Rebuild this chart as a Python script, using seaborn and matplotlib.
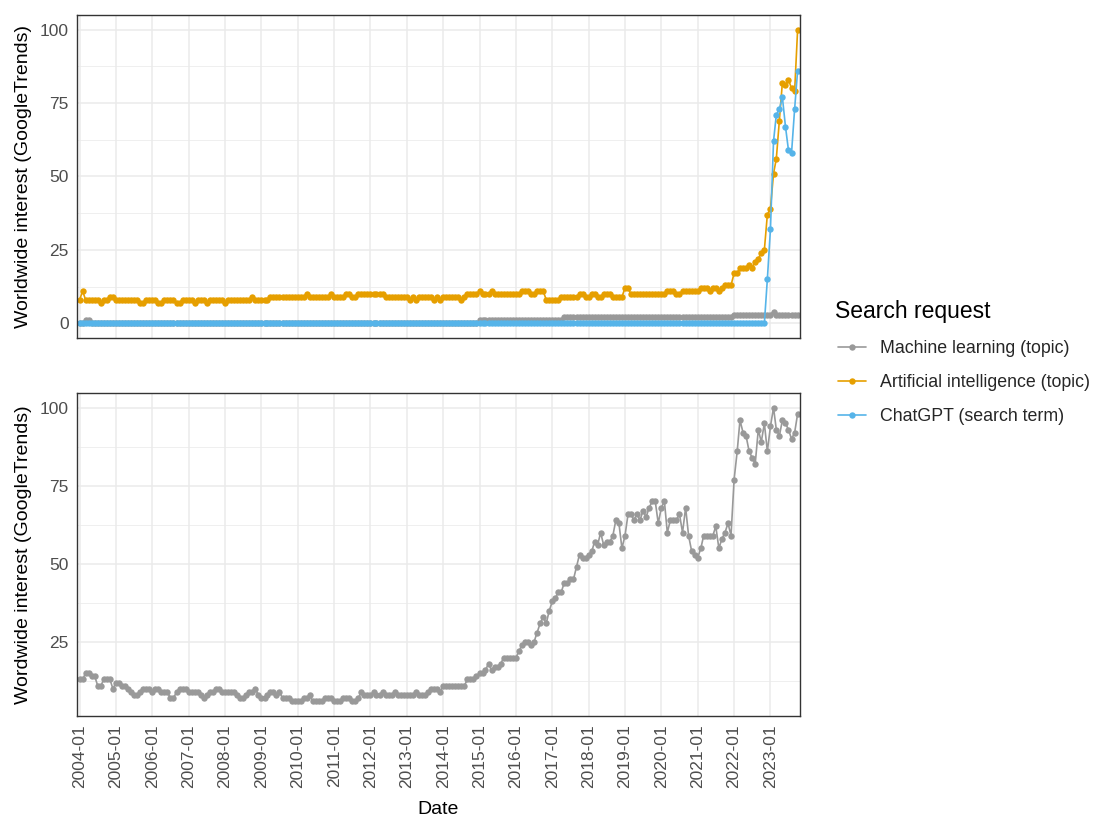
import matplotlib
matplotlib.use("Agg")
import matplotlib.pyplot as plt
from matplotlib.lines import Line2D
from matplotlib.ticker import MultipleLocator
import numpy as np
import pandas as pd
import seaborn as sns

# ---------------- data (monthly, 2004-01 .. 2023-10) ----------------
start_month = "2004-01-01"
n_months = 238

ml_bottom = [
    13, 13, 15, 15, 14, 14, 11, 11, 13, 13,
    13, 10, 12, 12, 11, 11, 10, 9, 8, 8,
    9, 10, 10, 10, 9, 10, 10, 9, 9, 9,
    7, 7, 9, 10, 10, 10, 9, 9, 9, 9,
    8, 7, 8, 9, 9, 10, 10, 9, 9, 9,
    9, 9, 8, 7, 7, 8, 9, 9, 10, 8,
    7, 7, 8, 9, 9, 8, 9, 7, 7, 7,
    6, 6, 6, 6, 7, 7, 8, 6, 6, 6,
    6, 7, 7, 7, 6, 6, 6, 7, 7, 7,
    6, 6, 7, 9, 8, 8, 8, 9, 8, 8,
    9, 8, 8, 8, 9, 8, 8, 8, 8, 8,
    8, 9, 8, 8, 8, 9, 10, 10, 10, 9,
    11, 11, 11, 11, 11, 11, 11, 11, 13, 13,
    13, 14, 15, 15, 16, 18, 16, 17, 17, 18,
    20, 20, 20, 20, 20, 22, 24, 25, 25, 24,
    25, 28, 31, 33, 31, 35, 38, 39, 41, 41,
    44, 44, 45, 45, 49, 53, 52, 52, 53, 54,
    57, 56, 60, 56, 57, 57, 59, 64, 63, 55,
    59, 66, 66, 64, 66, 64, 67, 65, 68, 70,
    70, 63, 68, 70, 60, 64, 64, 64, 66, 60,
    68, 59, 54, 53, 52, 55, 59, 59, 59, 59,
    62, 55, 58, 60, 63, 59, 77, 86, 96, 92,
    91, 86, 84, 82, 93, 89, 95, 86, 94, 100,
    93, 91, 96, 95, 93, 90, 92, 98,
]

ai_top = [
    8, 11, 8, 8, 8, 8, 8, 7, 8, 8,
    9, 9, 8, 8, 8, 8, 8, 8, 8, 8,
    7, 7, 8, 8, 8, 8, 7, 7, 8, 8,
    8, 8, 7, 7, 8, 8, 8, 8, 7, 8,
    8, 8, 7, 8, 8, 8, 8, 8, 7, 8,
    8, 8, 8, 8, 8, 8, 8, 9, 8, 8,
    8, 8, 8, 9, 9, 9, 9, 9, 9, 9,
    9, 9, 9, 9, 9, 10, 9, 9, 9, 9,
    9, 9, 9, 10, 9, 9, 9, 9, 10, 10,
    9, 9, 10, 10, 10, 10, 10, 10, 10, 10,
    10, 9, 9, 9, 9, 9, 9, 9, 9, 8,
    9, 8, 9, 9, 9, 9, 9, 8, 9, 8,
    9, 9, 9, 9, 9, 9, 8, 9, 10, 10,
    10, 10, 11, 10, 10, 10, 11, 10, 10, 10,
    10, 10, 10, 10, 10, 10, 11, 11, 11, 10,
    10, 11, 11, 11, 8, 8, 8, 8, 8, 9,
    9, 9, 9, 9, 9, 10, 10, 9, 9, 10,
    10, 9, 9, 10, 10, 10, 9, 9, 9, 9,
    12, 12, 10, 10, 10, 10, 10, 10, 10, 10,
    10, 10, 10, 10, 11, 11, 11, 10, 10, 11,
    11, 11, 11, 11, 11, 12, 12, 12, 11, 12,
    12, 11, 12, 13, 13, 13, 17, 17, 19, 19,
    19, 20, 19, 21, 22, 24, 25, 37, 39, 51,
    56, 69, 82, 81, 83, 80, 79, 100,
]

ml_top = [0] * 2 + [1] * 2 + [0] * 128 + [1] * 28 + [2] * 56 + [3] * 13 + [4] + [3] * 8

chatgpt_top = [0] * 227 + [15, 32, 62, 71, 73, 77, 67, 59, 58, 73, 86]

series_names = ["Machine learning (topic)", "Artificial intelligence (topic)", "ChatGPT (search term)"]
series_colors = ["#999999", "#E69F00", "#56B4E9"]
legend_title = "Search request"
tick_years = list(range(2004, 2024))
tick_labels = [f"{y}-01" for y in tick_years]

# ---------------- tables ----------------
dates = pd.date_range(start_month, periods=n_months, freq="MS")
top_df = pd.concat([
    pd.DataFrame({"Date": dates, "value": ml_top, "series": series_names[0]}),
    pd.DataFrame({"Date": dates, "value": ai_top, "series": series_names[1]}),
    pd.DataFrame({"Date": dates, "value": chatgpt_top, "series": series_names[2]}),
], ignore_index=True)
bottom_df = pd.DataFrame({"Date": dates, "value": ml_bottom, "series": series_names[0]})
palette = dict(zip(series_names, series_colors))

# ---------------- figure ----------------
sns.set_style("white")
plt.rcParams["font.family"] = ["Liberation Sans", "DejaVu Sans"]

TICK_FS = 12.5
TITLE_FS = 14.0
LEG_FS = 12.8
LEG_TITLE_FS = 16.5

W, H = 1096, 821
fig = plt.figure(figsize=(W / 100, H / 100), dpi=100)
left, right = 77, 800
ax_top = fig.add_axes([left / W, 1 - 338 / H, (right - left) / W, (338 - 15) / H])
ax_bot = fig.add_axes([left / W, 1 - 716 / H, (right - left) / W, (716 - 393) / H])

line_kw = dict(linewidth=1.2, marker="o", markersize=4.6, markeredgewidth=0)

sns.lineplot(data=top_df, x="Date", y="value", hue="series", hue_order=series_names,
             palette=palette, ax=ax_top, legend=False, **line_kw)
sns.lineplot(data=bottom_df, x="Date", y="value", hue="series", hue_order=[series_names[0]],
             palette=palette, ax=ax_bot, legend=False, **line_kw)

xmin = pd.Timestamp("2003-12-06")
xmax = pd.Timestamp("2023-10-25")
tick_dates = [pd.Timestamp(f"{y}-01-01") for y in tick_years]

for ax in (ax_top, ax_bot):
    ax.set_xlim(xmin, xmax)
    ax.set_xticks(tick_dates)
    ax.yaxis.set_major_locator(MultipleLocator(25))
    ax.yaxis.set_minor_locator(MultipleLocator(12.5))
    ax.grid(which="major", color="#EBEBEB", linewidth=1.1)
    ax.grid(which="minor", axis="y", color="#EBEBEB", linewidth=0.55)
    ax.set_axisbelow(True)
    for sp in ax.spines.values():
        sp.set_color("#333333")
        sp.set_linewidth(1.0)
    ax.tick_params(axis="both", which="major", colors="#333333", length=3.5, width=0.9,
                   labelcolor="#4D4D4D", labelsize=TICK_FS, pad=2.5)
    ax.tick_params(axis="y", which="minor", length=0)

ax_top.set_ylim(-5, 105)
ax_top.set_yticks([0, 25, 50, 75, 100])
ax_top.set_yticklabels(["0", "25", "50", "75", "100"])
ax_top.tick_params(axis="x", which="both", length=0, labelbottom=False)
ax_top.set_xlabel("")
ax_top.set_ylabel("Worldwide interest (GoogleTrends)", fontsize=TITLE_FS, color="black")

ax_bot.set_ylim(1.3, 104.7)
ax_bot.set_yticks([25, 50, 75, 100])
ax_bot.set_yticklabels(["25", "50", "75", "100"])
ax_bot.set_xticklabels(tick_labels, rotation=90, ha="center", va="top")
ax_bot.set_xlabel("Date", fontsize=TITLE_FS, color="black", labelpad=9)
ax_bot.set_ylabel("Wordwide interest (GoogleTrends)", fontsize=TITLE_FS, color="black")

for ax in (ax_top, ax_bot):
    ax.yaxis.set_label_coords(-0.062, 0.5)

# ---------------- legend ----------------
fig.text(835 / W, 1 - 311 / H, legend_title, ha="left", va="center",
         fontsize=LEG_TITLE_FS, color="black")
handles = [Line2D([], [], color=c, linewidth=1.2, marker="o", markersize=4.6, markeredgewidth=0)
           for c in series_colors]
leg = fig.legend(handles, series_names, loc="upper left",
                 bbox_to_anchor=(831 / W, 1 - 333 / H), frameon=False,
                 fontsize=LEG_FS, handlelength=1.55, handletextpad=0.8,
                 labelspacing=0.96, borderaxespad=0)

fig.savefig("out.png", dpi=100)
